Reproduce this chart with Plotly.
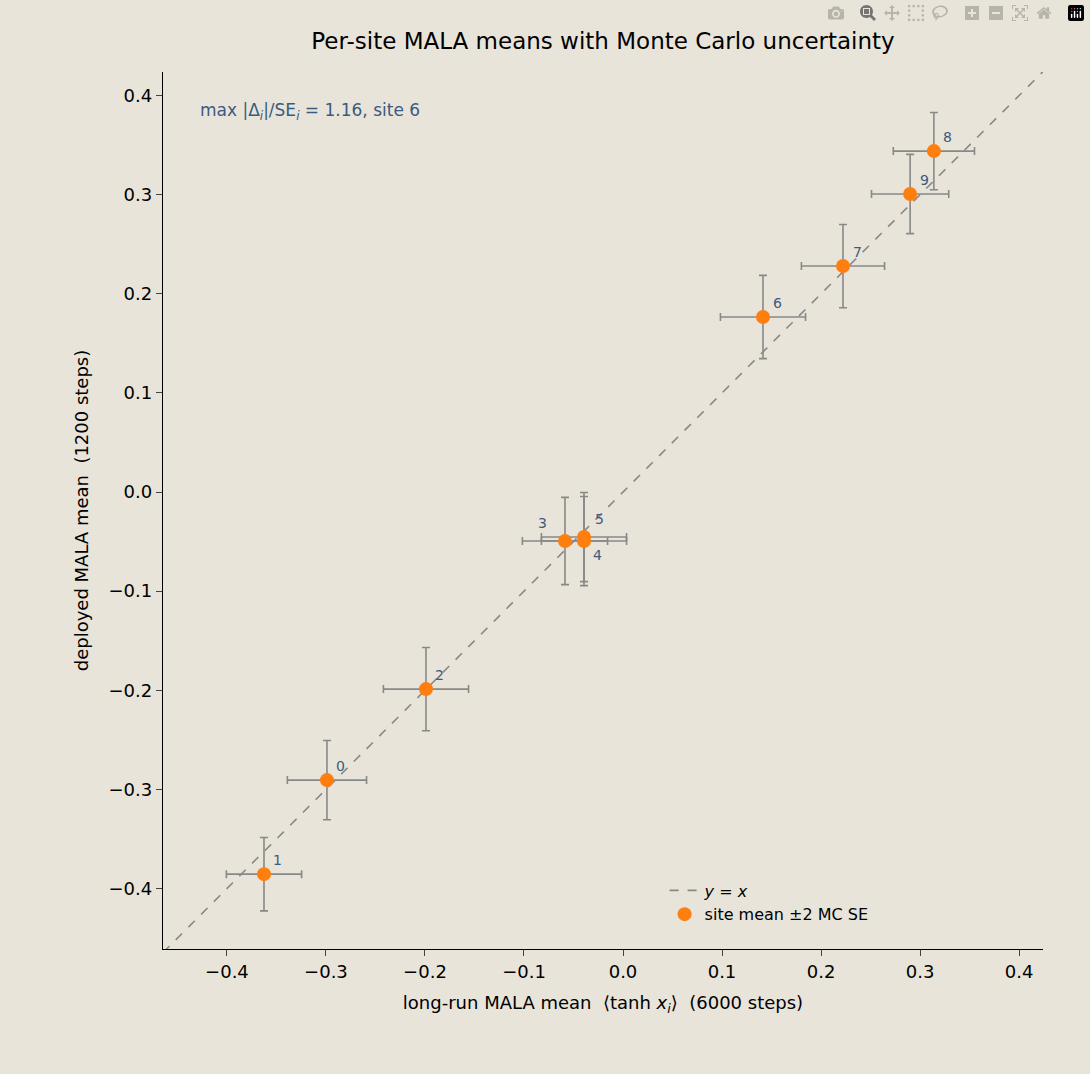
import plotly.graph_objects as go

sites = ["0","1","2","3","4","5","6","7","8","9"]
x_long = [-0.299,-0.3626,-0.199,-0.0586,-0.0394,-0.0394,0.1414,0.2222,0.314,0.290]
y_dep = [-0.2906,-0.3855,-0.1988,-0.0494,-0.0494,-0.0454,0.1766,0.228,0.344,0.3007]
x_err = [0.040,0.038,0.043,0.043,0.043,0.043,0.043,0.042,0.041,0.039]
y_err = [0.040,0.037,0.042,0.044,0.045,0.045,0.042,0.042,0.039,0.040]
# label offsets (pixels)
lab_dx = [14,14,14,-22,14,16,14,14,14,14]
lab_dy = [-14,-14,-14,-18,14,-18,-14,-14,-14,-14]

bg = "#E8E4DA"
lo, hi = -0.4646, 0.4242
fig = go.Figure()
fig.add_trace(go.Scatter(x=[lo, hi], y=[lo, hi], mode="lines",
    line=dict(color="#888888", dash="dash", width=1.6), name="<i>y</i> = <i>x</i>"))
fig.add_trace(go.Scatter(x=x_long, y=y_dep, mode="markers",
    marker=dict(color="#FF7F0E", size=14),
    error_x=dict(type="data", array=x_err, color="#888888", thickness=1.6, width=4),
    error_y=dict(type="data", array=y_err, color="#888888", thickness=1.6, width=4),
    name="site mean ±2 MC SE"))
for s, xv, yv, dx, dy in zip(sites, x_long, y_dep, lab_dx, lab_dy):
    fig.add_annotation(x=xv, y=yv, text=s, showarrow=True, arrowcolor="rgba(0,0,0,0)",
        ax=dx, ay=dy, font=dict(size=14, color="#3B5A80"))
fig.add_annotation(xref="paper", yref="paper", x=0.04, y=0.955, xanchor="left", yanchor="middle",
    text="max |Δ<sub><i>i</i></sub>|/SE<sub><i>i</i></sub> = 1.16, site 6", showarrow=False,
    font=dict(size=17, color="#3B5A80"))
tick = dict(tickmode="array", tickvals=[-0.4,-0.3,-0.2,-0.1,0,0.1,0.2,0.3,0.4],
    ticktext=["−0.4","−0.3","−0.2","−0.1","0.0","0.1","0.2","0.3","0.4"],
    ticks="outside", ticklen=6, showgrid=False, zeroline=False, showline=True,
    linecolor="black", linewidth=1.3, tickfont=dict(size=18, color="black"))
fig.update_layout(
    width=1090, height=1074, paper_bgcolor=bg, plot_bgcolor=bg,
    font=dict(family="DejaVu Sans", color="black"),
    margin=dict(l=163, r=47, t=72, b=125),
    title=dict(text="Per-site MALA means with Monte Carlo uncertainty", x=0.5, xref="paper",
               y=0.962, yanchor="middle", font=dict(size=23)),
    xaxis=dict(range=[lo, hi], title=dict(text="long-run MALA mean  ⟨tanh <i>x<sub>i</sub></i>⟩  (6000 steps)", font=dict(size=18)), **tick),
    yaxis=dict(range=[-0.461, 0.4238], title=dict(text="deployed MALA mean  (1200 steps)", font=dict(size=18)), **tick),
    legend=dict(x=0.57, y=0.02, xanchor="left", yanchor="bottom", bgcolor="rgba(0,0,0,0)",
                font=dict(size=16)),
    showlegend=True,
)
fig.write_html("out.html", post_script="document.body.style.margin='0';document.body.style.background='#E8E4DA';")
